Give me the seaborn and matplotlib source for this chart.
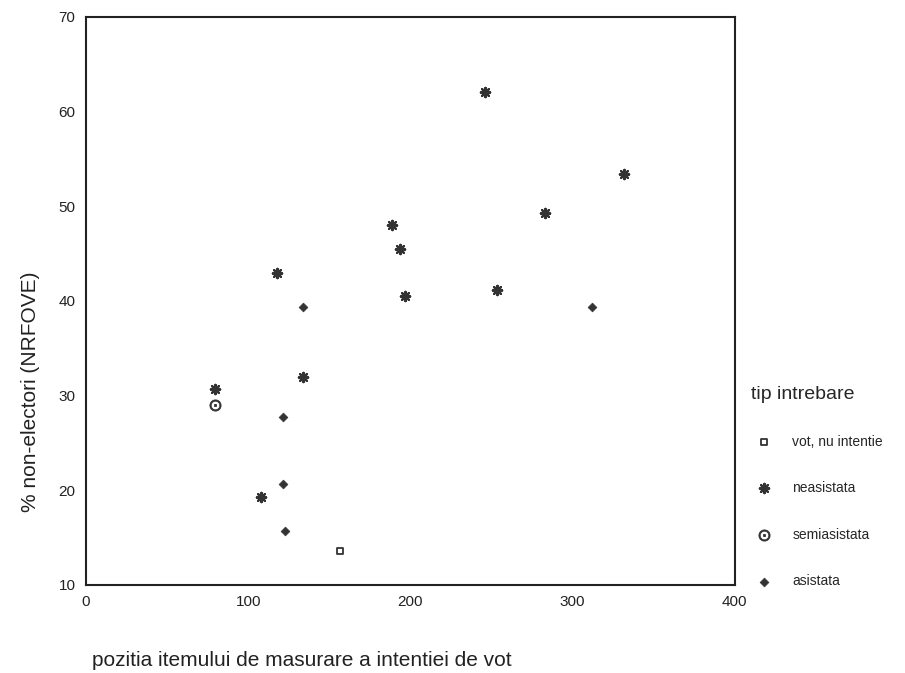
import matplotlib
matplotlib.use("Agg")
import matplotlib.pyplot as plt
import seaborn as sns
import pandas as pd

# data
vot_x = [156.5]
vot_y = [13.6]
neasistata_x = [245.8, 331.5, 282.8, 188.4, 193.5, 196.5, 253.2, 117.7, 133.7, 79.5, 108.2]
neasistata_y = [62.1, 53.4, 49.3, 48.0, 45.5, 40.5, 41.1, 42.9, 32.0, 30.7, 19.3]
semi_x = [79.5]
semi_y = [29.0]
asistata_x = [133.7, 311.8, 121.4, 121.4, 122.6]
asistata_y = [39.3, 39.4, 27.7, 20.7, 15.7]
categories = ["vot, nu intentie", "neasistata", "semiasistata", "asistata"]
x_ticks = [0, 100, 200, 300, 400]
y_ticks = [10, 20, 30, 40, 50, 60, 70]

sns.set_theme(style="white")
plt.rcParams["font.family"] = ["Liberation Sans", "DejaVu Sans"]

frames = []
for cat, xs, ys in zip(categories,
                       [vot_x, neasistata_x, semi_x, asistata_x],
                       [vot_y, neasistata_y, semi_y, asistata_y]):
    frames.append(pd.DataFrame({"x": xs, "y": ys, "tip": cat}))
df = pd.concat(frames, ignore_index=True)

fig = plt.figure(figsize=(9.05, 6.73), dpi=100)
ax = fig.add_axes([0.095, 0.131, 0.717, 0.844])

styles = {
    "vot, nu intentie": dict(marker="s", s=22, facecolor="white", edgecolor="#333333", linewidth=1.3),
    "neasistata": dict(marker=(8, 2, 0), s=45, color="#333333", linewidth=1.6),
    "semiasistata": dict(marker="$\\odot$", s=65, color="#333333", edgecolor="#333333", linewidth=0.6),
    "asistata": dict(marker="D", s=20, color="#333333", edgecolor="#333333", linewidth=0.5),
}
for cat in categories:
    sub = df[df["tip"] == cat]
    sns.scatterplot(data=sub, x="x", y="y", ax=ax, label=cat, **styles[cat])

ax.set_xlim(0, 400)
ax.set_ylim(10, 70)
ax.set_xticks(x_ticks)
ax.set_yticks(y_ticks)
ax.set_xlabel("")
ax.set_ylabel("")
for sp in ax.spines.values():
    sp.set_color("#222222")
    sp.set_linewidth(1.5)
ax.tick_params(axis="both", which="major", length=3, width=2, direction="inout",
               labelsize=11, colors="#222222", pad=6)

fig.text(92 / 905, 1 - 660 / 673, "pozitia itemului de masurare a intentiei de vot",
         fontsize=15, ha="left", va="center", color="#222222")
fig.text(30 / 905, 1 - 392 / 673, "% non-electori (NRFOVE)", fontsize=15,
         rotation=90, ha="center", va="center", color="#222222")

leg = ax.legend(loc="upper left", bbox_to_anchor=(745 / 905, 1 - 380 / 673),
                bbox_transform=fig.transFigure, frameon=False, title="tip intrebare",
                fontsize=10, title_fontsize=14, labelspacing=2.35, handletextpad=1.0,
                markerscale=1.0, borderaxespad=0)
leg._legend_box.align = "left"
leg._legend_box.sep = 23

fig.savefig("out.png", dpi=100, facecolor="white")
